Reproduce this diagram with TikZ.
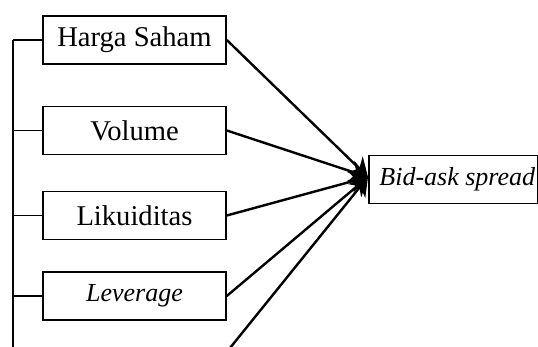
\documentclass[tikz,border=0pt]{standalone}
\usepackage{fontspec}
\setmainfont{Liberation Serif}
\usetikzlibrary{arrows.meta}
\begin{document}
\begin{tikzpicture}[x=0.5pt,y=-0.5pt,
  box/.style={draw, line width=0.8pt, minimum width=91.5pt, minimum height=24pt, inner sep=0pt, font=\fontsize{14.3}{16}\selectfont},
  conn/.style={line width=1.1pt},
  stub/.style={line width=0.8pt},
  arr/.style={line width=1.2pt, -{Stealth[length=9pt,width=11pt]}}]
\useasboundingbox (0,0) rectangle (538,347);
\node[box] (h) at (134.5,40) {Harga Saham};
\node[box] (v) at (134.5,130.5) {Volume};
\node[box] (l) at (134.5,215.5) {Likuiditas};
\node[box] (lv) at (134.5,296) {\fontsize{13}{15}\selectfont\itshape Leverage};
\node[box, minimum width=84.5pt, anchor=west] (b) at (368,179.5) {\hspace{4pt}\fontsize{13}{15}\selectfont\itshape Bid-ask spread};
\coordinate (tip) at (368,177);
\coordinate (top) at (13,40);
\coordinate (bot) at (13,348);
\coordinate (low) at (230,348);
\draw[conn] (top) -- (bot);
\foreach \n in {h,v,l,lv} {\draw[stub] (\n.west) -- (\n.west -| top);}
\foreach \n in {h,v,l,lv} {\draw[arr] (\n.east) -- (tip);}
\draw[arr] (low) -- (tip);
\end{tikzpicture}
\end{document}
